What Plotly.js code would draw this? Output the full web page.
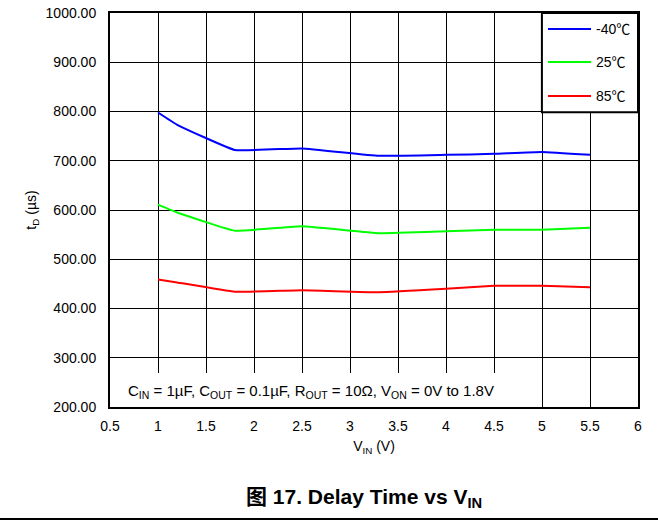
<!DOCTYPE html>
<html><head><meta charset="utf-8">
<script src="https://cdn.plot.ly/plotly-3.0.1.min.js"></script>
<style>html,body{margin:0;padding:0;background:#fff}</style>
</head><body><div id="chart" style="width:658px;height:525px"></div>
<script>
const vin = [1, 1.2, 1.8, 2.5, 3.3, 4.0, 4.5, 5.0, 5.5];
const tM40 = [798, 773, 722, 725, 710, 712, 714, 718, 712];
const t25 = [611, 595, 558, 567, 553, 557, 560, 560, 564];
const t85 = [459, 453, 434, 437, 433, 440, 446, 446, 443];
const names = ['-40℃', '25℃', '85℃'];
const colors = ['#0000ff', '#00ff00', '#ff0000'];
const series = [tM40, t25, t85];
const font = 'Liberation Sans, Arial, Noto Sans CJK SC, sans-serif';

const traces = series.map((s, i) => ({
  x: vin, y: s, type: 'scatter', mode: 'lines', name: names[i], showlegend: false,
  line: {color: colors[i], width: 2, shape: 'spline', smoothing: 0.3}
}));

// manual legend (box, samples, labels) in paper coordinates
const legX0 = 0.818, legX1 = 1.0, legY0 = 0.748, legY1 = 1.0;
const legRowY = [0.9594, 0.8756, 0.7893];
const legShapes = [{type: 'rect', layer: 'above', xref: 'paper', yref: 'paper',
  x0: legX0, x1: legX1, y0: legY0, y1: legY1, fillcolor: '#fff', line: {color: '#000', width: 2}}];
const legAnn = [];
names.forEach((n, i) => {
  legShapes.push({type: 'line', layer: 'above', xref: 'paper', yref: 'paper',
    x0: 0.8295, x1: 0.911, y0: legRowY[i], y1: legRowY[i], line: {color: colors[i], width: 2}});
  legAnn.push({xref: 'paper', yref: 'paper', x: 0.9165, y: legRowY[i], xanchor: 'left', yanchor: 'middle',
    showarrow: false, text: n, font: {size: 14}});
});

const layout = {
  width: 658, height: 525,
  margin: {l: 110, r: 20, t: 13, b: 118},
  paper_bgcolor: '#fff', plot_bgcolor: '#fff',
  font: {family: font, size: 14, color: '#000'},
  showlegend: false,
  xaxis: {range: [0.5, 6], dtick: 0.5, tick0: 0.5, showgrid: true, gridcolor: '#000', gridwidth: 1,
    showline: true, linecolor: '#000', linewidth: 2, mirror: true, zeroline: false,
    ticks: '', ticklabelstandoff: 5, tickfont: {size: 14},
    title: {text: 'V<sub>IN</sub> (V)', standoff: 8, font: {size: 14}}},
  yaxis: {range: [200, 1000], dtick: 100, tickformat: '.2f', showgrid: true, gridcolor: '#000', gridwidth: 1,
    showline: true, linecolor: '#000', linewidth: 2, mirror: true, zeroline: false,
    ticks: '', ticklabelstandoff: 9, tickfont: {size: 14},
    title: {text: 't<sub>D</sub> (µs)', standoff: 6, font: {size: 14}}},
  shapes: [
    {type: 'rect', layer: 'between', xref: 'x', yref: 'y', x0: 0.5, x1: 4.73, y0: 200, y1: 269,
      fillcolor: '#fff', line: {width: 0}},
    {type: 'line', xref: 'paper', yref: 'paper', x0: -0.21, x1: 1.04, y0: -0.284, y1: -0.284,
      line: {color: '#000', width: 2}}
  ].concat(legShapes),
  annotations: [
    {xref: 'x', yref: 'y', x: 2.59, y: 232, showarrow: false,
      text: 'C<sub>IN</sub> = 1µF, C<sub>OUT</sub> = 0.1µF, R<sub>OUT</sub> = 10Ω, V<sub>ON</sub> = 0V to 1.8V',
      font: {size: 15}},
    {xref: 'paper', yref: 'paper', x: 0.481, y: -0.23, showarrow: false, yanchor: 'middle',
      text: '<b>图 17. Delay Time vs V<sub>IN</sub></b>', font: {size: 21}}
  ].concat(legAnn)
};
Plotly.newPlot('chart', traces, layout, {displayModeBar: false, staticPlot: true});
</script></body></html>
